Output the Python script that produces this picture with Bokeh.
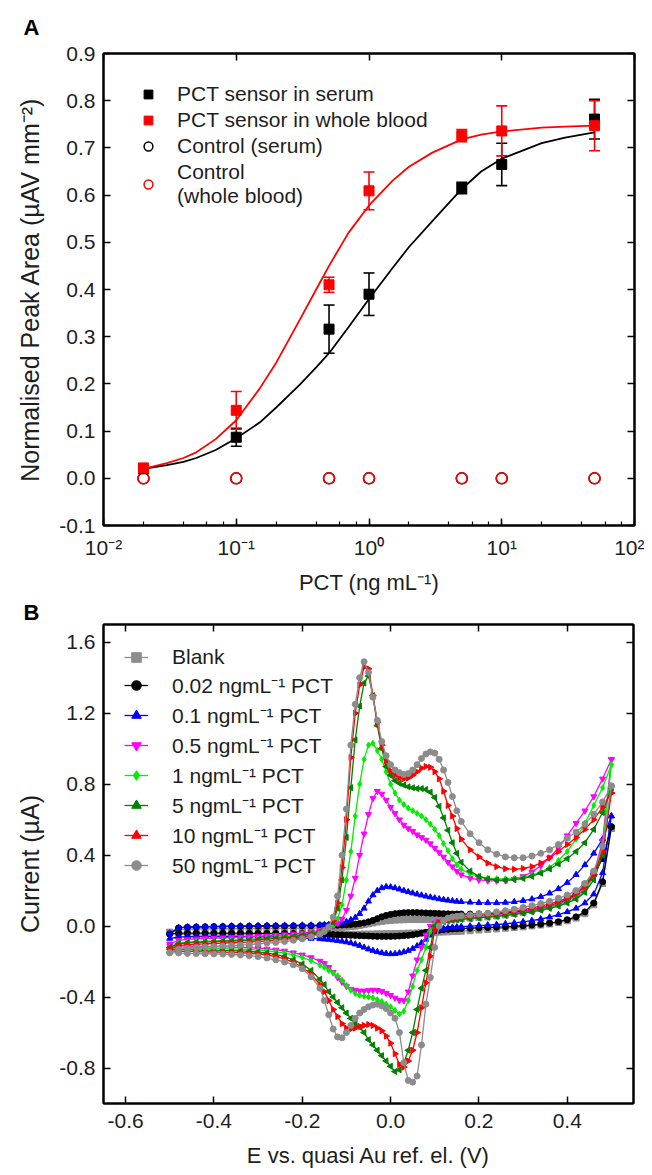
import math
from bokeh.plotting import figure
from bokeh.models import (LogAxis, LinearAxis, FixedTicker, LogTicker, CustomJSTickFormatter,
                          PrintfTickFormatter, Whisker, ColumnDataSource, TeeHead, Legend,
                          LegendItem, Title, Range1d)
from bokeh.layouts import column
from bokeh.embed import file_html
from bokeh.resources import INLINE

FONT = "Liberation Sans"
TXT = "#1e1e1e"

# ---------------- Panel A data ----------------
pct = [0.02, 0.1, 0.5, 1, 5, 10, 50]
serum = [0.020, 0.087, 0.316, 0.390, 0.615, 0.665, 0.761]
serum_err = [0.006, 0.019, 0.051, 0.045, 0.012, 0.045, 0.042]
blood = [0.022, 0.144, 0.410, 0.609, 0.726, 0.736, 0.747]
blood_err = [0.006, 0.040, 0.016, 0.040, 0.013, 0.053, 0.053]
control_serum = [0, 0, 0, 0, 0, 0, 0]
control_blood = [0, 0, 0, 0, 0, 0, 0]
fit_x = [0.02, 0.03, 0.04, 0.05, 0.07, 0.1, 0.15, 0.2, 0.3, 0.4, 0.5, 0.7, 1, 1.5, 2, 3, 5, 7, 10, 20, 30, 50]
fit_serum = [0.020, 0.028, 0.035, 0.043, 0.060, 0.085, 0.118, 0.150, 0.198, 0.235, 0.265, 0.320, 0.380,
             0.445, 0.490, 0.545, 0.613, 0.650, 0.677, 0.710, 0.722, 0.733]
fit_blood = [0.020, 0.032, 0.043, 0.055, 0.083, 0.123, 0.190, 0.245, 0.335, 0.400, 0.450, 0.520, 0.578,
             0.630, 0.660, 0.690, 0.718, 0.728, 0.735, 0.743, 0.745, 0.747]
a_yticks = [-0.1, 0.0, 0.1, 0.2, 0.3, 0.4, 0.5, 0.6, 0.7, 0.8, 0.9]

# ---------------- Panel B data ----------------
E_V = [-0.50, -0.48, -0.46, -0.44, -0.42, -0.40, -0.38, -0.36, -0.34, -0.32, -0.30, -0.28, -0.26, -0.24, -0.22, -0.20, -0.18, -0.16,
       -0.15, -0.14, -0.13, -0.12, -0.11, -0.10, -0.09, -0.08, -0.07, -0.06, -0.05, -0.04, -0.03, -0.02, -0.01, 0.00,
       0.01, 0.02, 0.03, 0.04, 0.05, 0.06, 0.07, 0.08, 0.09, 0.10, 0.11, 0.12, 0.13, 0.14, 0.15,
       0.16, 0.18, 0.20, 0.22, 0.24, 0.26, 0.28, 0.30, 0.32, 0.34, 0.36, 0.38, 0.40, 0.42, 0.44, 0.46, 0.48, 0.50]

blank_fwd = [-0.035, -0.020, -0.018, -0.017, -0.016, -0.016, -0.015, -0.015, -0.015, -0.014, -0.014, -0.014, -0.013, -0.013, -0.013, -0.012, -0.012, -0.012,
             -0.011, -0.010, -0.009, -0.008, -0.007, -0.005, -0.003, 0.000, 0.004, 0.008, 0.013, 0.018, 0.023, 0.027, 0.030, 0.032,
             0.034, 0.035, 0.036, 0.037, 0.037, 0.037, 0.037, 0.037, 0.037, 0.037, 0.038, 0.038, 0.039, 0.040, 0.041,
             0.042, 0.045, 0.048, 0.052, 0.057, 0.063, 0.070, 0.078, 0.088, 0.100, 0.115, 0.134, 0.158, 0.190, 0.235, 0.300, 0.390, 0.550]
blank_rev = [-0.035, -0.045, -0.048, -0.049, -0.050, -0.050, -0.050, -0.050, -0.050, -0.050, -0.050, -0.050, -0.050, -0.050, -0.050, -0.050, -0.049, -0.049,
             -0.049, -0.048, -0.048, -0.048, -0.047, -0.047, -0.047, -0.046, -0.046, -0.045, -0.045, -0.045, -0.044, -0.044, -0.043, -0.043,
             -0.042, -0.042, -0.041, -0.040, -0.040, -0.039, -0.038, -0.037, -0.036, -0.035, -0.034, -0.033, -0.032, -0.031, -0.030,
             -0.029, -0.026, -0.022, -0.019, -0.016, -0.012, -0.008, -0.004, 0.001, 0.006, 0.012, 0.020, 0.030, 0.045, 0.070, 0.120, 0.240, 0.550]

c002_fwd = [-0.045, -0.010, -0.006, -0.005, -0.004, -0.003, -0.003, -0.002, -0.002, -0.001, -0.001, 0.000, 0.000, 0.000, 0.001, 0.001, 0.002, 0.003,
            0.003, 0.004, 0.004, 0.005, 0.006, 0.007, 0.009, 0.011, 0.014, 0.018, 0.024, 0.032, 0.042, 0.052, 0.060, 0.066,
            0.070, 0.073, 0.075, 0.076, 0.076, 0.076, 0.075, 0.074, 0.073, 0.072, 0.071, 0.070, 0.069, 0.068, 0.068,
            0.068, 0.068, 0.069, 0.070, 0.072, 0.075, 0.079, 0.084, 0.091, 0.100, 0.112, 0.128, 0.150, 0.180, 0.225, 0.290, 0.380, 0.560]
c002_rev = [-0.045, -0.040, -0.040, -0.040, -0.040, -0.040, -0.040, -0.040, -0.040, -0.040, -0.041, -0.041, -0.041, -0.041, -0.042, -0.042, -0.043, -0.045,
            -0.046, -0.047, -0.048, -0.049, -0.050, -0.051, -0.052, -0.053, -0.054, -0.055, -0.056, -0.057, -0.058, -0.058, -0.058, -0.058,
            -0.057, -0.056, -0.054, -0.052, -0.049, -0.045, -0.040, -0.035, -0.030, -0.026, -0.023, -0.020, -0.018, -0.016, -0.015,
            -0.014, -0.012, -0.010, -0.008, -0.006, -0.004, -0.001, 0.002, 0.006, 0.011, 0.017, 0.025, 0.036, 0.052, 0.080, 0.130, 0.250, 0.560]

c01_fwd = [-0.040, -0.010, -0.005, -0.004, -0.003, -0.002, -0.001, 0.000, 0.000, 0.001, 0.002, 0.003, 0.003, 0.004, 0.004, 0.005, 0.005, 0.006,
           0.007, 0.008, 0.010, 0.013, 0.018, 0.025, 0.035, 0.048, 0.070, 0.100, 0.140, 0.175, 0.200, 0.215, 0.222, 0.220,
           0.215, 0.208, 0.200, 0.193, 0.186, 0.180, 0.174, 0.168, 0.163, 0.158, 0.153, 0.149, 0.145, 0.142, 0.139,
           0.137, 0.134, 0.132, 0.131, 0.131, 0.133, 0.137, 0.143, 0.152, 0.165, 0.185, 0.210, 0.245, 0.290, 0.345, 0.410, 0.490, 0.620]
c01_rev = [-0.070, -0.062, -0.060, -0.059, -0.058, -0.058, -0.058, -0.058, -0.058, -0.059, -0.060, -0.061, -0.062, -0.064, -0.066, -0.068, -0.070, -0.072,
           -0.074, -0.076, -0.079, -0.082, -0.086, -0.090, -0.095, -0.102, -0.110, -0.120, -0.130, -0.138, -0.145, -0.151, -0.155, -0.157,
           -0.156, -0.152, -0.146, -0.138, -0.127, -0.112, -0.095, -0.075, -0.052, -0.032, -0.020, -0.014, -0.010, -0.007, -0.005,
           -0.003, 0.000, 0.003, 0.006, 0.009, 0.013, 0.018, 0.024, 0.031, 0.040, 0.050, 0.064, 0.080, 0.100, 0.130, 0.180, 0.300, 0.620]

c05_fwd = [-0.100, -0.080, -0.075, -0.072, -0.070, -0.068, -0.066, -0.064, -0.062, -0.060, -0.058, -0.055, -0.052, -0.048, -0.044, -0.039, -0.032, -0.024,
           -0.018, -0.010, 0.000, 0.015, 0.040, 0.090, 0.170, 0.270, 0.400, 0.520, 0.630, 0.720, 0.760, 0.745, 0.710, 0.670,
           0.635, 0.600, 0.570, 0.550, 0.535, 0.515, 0.500, 0.485, 0.465, 0.440, 0.415, 0.390, 0.360, 0.335, 0.310,
           0.290, 0.270, 0.260, 0.256, 0.255, 0.257, 0.265, 0.280, 0.305, 0.340, 0.385, 0.440, 0.510, 0.580, 0.650, 0.730, 0.830, 0.940]
c05_rev = [-0.110, -0.112, -0.113, -0.114, -0.115, -0.116, -0.117, -0.118, -0.120, -0.122, -0.125, -0.129, -0.134, -0.140, -0.150, -0.162, -0.177, -0.197,
           -0.210, -0.232, -0.260, -0.290, -0.315, -0.340, -0.355, -0.362, -0.365, -0.365, -0.363, -0.360, -0.362, -0.368, -0.378, -0.390,
           -0.405, -0.418, -0.420, -0.370, -0.280, -0.190, -0.120, -0.050, 0.000, 0.018, 0.025, 0.030, 0.034, 0.037, 0.040,
           0.042, 0.046, 0.050, 0.055, 0.060, 0.066, 0.073, 0.081, 0.090, 0.100, 0.112, 0.127, 0.145, 0.170, 0.210, 0.290, 0.480, 0.940]

c1_fwd = [-0.120, -0.095, -0.090, -0.087, -0.085, -0.083, -0.081, -0.079, -0.077, -0.075, -0.072, -0.069, -0.065, -0.060, -0.055, -0.048, -0.040, -0.030,
          -0.022, -0.012, 0.005, 0.040, 0.120, 0.260, 0.420, 0.620, 0.800, 0.940, 1.020, 1.030, 0.990, 0.940, 0.870, 0.800,
          0.750, 0.710, 0.685, 0.665, 0.650, 0.635, 0.620, 0.600, 0.575, 0.545, 0.510, 0.465, 0.425, 0.380, 0.345,
          0.320, 0.295, 0.280, 0.270, 0.267, 0.266, 0.268, 0.275, 0.287, 0.305, 0.330, 0.370, 0.420, 0.490, 0.580, 0.680, 0.780, 0.910]
c1_rev = [-0.120, -0.122, -0.123, -0.124, -0.125, -0.126, -0.127, -0.128, -0.130, -0.133, -0.136, -0.140, -0.145, -0.152, -0.162, -0.176, -0.195, -0.220,
          -0.232, -0.250, -0.265, -0.280, -0.305, -0.335, -0.360, -0.380, -0.390, -0.395, -0.400, -0.405, -0.415, -0.425, -0.440, -0.455,
          -0.475, -0.495, -0.480, -0.420, -0.340, -0.250, -0.190, -0.120, -0.030, 0.010, 0.022, 0.028, 0.032, 0.035, 0.038,
          0.040, 0.044, 0.048, 0.052, 0.057, 0.062, 0.068, 0.075, 0.083, 0.093, 0.104, 0.118, 0.135, 0.160, 0.200, 0.280, 0.450, 0.910]

c5_fwd = [-0.120, -0.100, -0.095, -0.092, -0.090, -0.088, -0.086, -0.084, -0.082, -0.080, -0.077, -0.074, -0.070, -0.065, -0.060, -0.053, -0.044, -0.033,
          -0.025, -0.010, 0.020, 0.100, 0.260, 0.500, 0.780, 1.050, 1.240, 1.370, 1.410, 1.300, 1.130, 1.000, 0.900, 0.850,
          0.820, 0.805, 0.795, 0.785, 0.780, 0.775, 0.775, 0.770, 0.755, 0.725, 0.675, 0.610, 0.540, 0.470, 0.410,
          0.360, 0.310, 0.280, 0.265, 0.260, 0.258, 0.262, 0.268, 0.280, 0.298, 0.322, 0.350, 0.380, 0.420, 0.470, 0.545, 0.640, 0.780]
c5_rev = [-0.130, -0.132, -0.133, -0.134, -0.135, -0.136, -0.137, -0.138, -0.140, -0.143, -0.147, -0.152, -0.160, -0.172, -0.190, -0.213, -0.250, -0.300,
          -0.330, -0.370, -0.400, -0.430, -0.460, -0.490, -0.520, -0.550, -0.570, -0.600, -0.640, -0.670, -0.700, -0.730, -0.760, -0.790,
          -0.820, -0.810, -0.770, -0.700, -0.600, -0.470, -0.350, -0.250, -0.120, 0.000, 0.020, 0.025, 0.030, 0.033, 0.036,
          0.038, 0.042, 0.046, 0.050, 0.055, 0.060, 0.066, 0.073, 0.080, 0.090, 0.100, 0.113, 0.130, 0.152, 0.190, 0.260, 0.400, 0.780]

c10_fwd = [-0.130, -0.110, -0.105, -0.102, -0.100, -0.098, -0.096, -0.094, -0.092, -0.090, -0.087, -0.084, -0.080, -0.075, -0.069, -0.062, -0.052, -0.040,
           -0.030, -0.010, 0.030, 0.130, 0.330, 0.600, 0.950, 1.200, 1.360, 1.460, 1.450, 1.300, 1.150, 1.020, 0.930, 0.875,
           0.850, 0.835, 0.830, 0.835, 0.850, 0.870, 0.890, 0.900, 0.895, 0.870, 0.830, 0.760, 0.680, 0.620, 0.550,
           0.490, 0.430, 0.390, 0.355, 0.335, 0.323, 0.320, 0.325, 0.335, 0.355, 0.385, 0.420, 0.460, 0.500, 0.545, 0.600, 0.670, 0.750]
c10_rev = [-0.140, -0.142, -0.143, -0.144, -0.145, -0.146, -0.147, -0.148, -0.150, -0.153, -0.157, -0.163, -0.172, -0.185, -0.205, -0.232, -0.270, -0.330,
           -0.370, -0.420, -0.470, -0.510, -0.550, -0.575, -0.580, -0.575, -0.565, -0.560, -0.555, -0.560, -0.575, -0.590, -0.620, -0.660,
           -0.720, -0.780, -0.795, -0.760, -0.700, -0.600, -0.460, -0.320, -0.170, -0.020, 0.020, 0.030, 0.037, 0.042, 0.046,
           0.050, 0.055, 0.060, 0.065, 0.070, 0.077, 0.085, 0.093, 0.102, 0.113, 0.125, 0.140, 0.158, 0.182, 0.220, 0.290, 0.420, 0.750]

c50_fwd = [-0.150, -0.130, -0.125, -0.120, -0.118, -0.115, -0.112, -0.110, -0.107, -0.104, -0.100, -0.096, -0.092, -0.087, -0.080, -0.072, -0.060, -0.045,
           -0.030, -0.005, 0.050, 0.170, 0.400, 0.660, 1.020, 1.250, 1.400, 1.490, 1.430, 1.290, 1.160, 1.040, 0.960, 0.910,
           0.880, 0.865, 0.855, 0.860, 0.880, 0.910, 0.945, 0.970, 0.982, 0.975, 0.940, 0.880, 0.810, 0.730, 0.650,
           0.590, 0.520, 0.470, 0.430, 0.405, 0.390, 0.385, 0.385, 0.395, 0.410, 0.430, 0.460, 0.495, 0.530, 0.575, 0.630, 0.700, 0.790]
c50_rev = [-0.150, -0.152, -0.154, -0.155, -0.156, -0.157, -0.158, -0.160, -0.163, -0.167, -0.172, -0.180, -0.190, -0.202, -0.218, -0.240, -0.285, -0.350,
           -0.420, -0.500, -0.580, -0.625, -0.630, -0.600, -0.560, -0.520, -0.490, -0.470, -0.455, -0.445, -0.440, -0.450, -0.465, -0.490,
           -0.520, -0.600, -0.770, -0.870, -0.880, -0.845, -0.670, -0.440, -0.290, -0.120, 0.000, 0.030, 0.045, 0.052, 0.055,
           0.058, 0.063, 0.068, 0.073, 0.080, 0.087, 0.095, 0.105, 0.115, 0.127, 0.140, 0.157, 0.175, 0.200, 0.240, 0.310, 0.450, 0.790]

b_labels = ["Blank", "0.02 ngmL\u207b\u00b9 PCT", "0.1 ngmL\u207b\u00b9 PCT", "0.5 ngmL\u207b\u00b9 PCT",
            "1 ngmL\u207b\u00b9 PCT", "5 ngmL\u207b\u00b9 PCT", "10 ngmL\u207b\u00b9 PCT", "50 ngmL\u207b\u00b9 PCT"]
b_fwd = [blank_fwd, c002_fwd, c01_fwd, c05_fwd, c1_fwd, c5_fwd, c10_fwd, c50_fwd]
b_rev = [blank_rev, c002_rev, c01_rev, c05_rev, c1_rev, c5_rev, c10_rev, c50_rev]
b_xticks = [-0.6, -0.4, -0.2, 0.0, 0.2, 0.4]
b_yticks = [-0.8, -0.4, 0.0, 0.4, 0.8, 1.2, 1.6]

# styles (kept separate from data)
b_colors = ["#8c8c8c", "#000000", "#0000ff", "#ff00ff", "#00ee00", "#008000", "#ff0000", "#8c8c8c"]
b_markers = ["square", "circle", "triangle", "inverted_triangle", "diamond", "triangle", "triangle", "circle"]
b_angles = [0, 0, 0, 0, 0, math.pi / 2, -math.pi / 2, 0]


def empty_fmt():
    return CustomJSTickFormatter(code="return '';")


def style_axis(ax):
    ax.axis_line_width = 2
    ax.axis_line_color = "black"
    ax.major_tick_line_width = 1.5
    ax.major_tick_line_color = "black"
    ax.minor_tick_line_width = 1.2
    ax.minor_tick_line_color = "black"
    ax.major_tick_in = 7
    ax.major_tick_out = 0
    ax.minor_tick_in = 4
    ax.minor_tick_out = 0
    ax.major_label_text_font = FONT
    ax.major_label_text_font_size = "21px"
    ax.major_label_text_color = TXT
    ax.axis_label_text_font = FONT
    ax.axis_label_text_font_size = "22px"
    ax.axis_label_text_font_style = "normal"
    ax.axis_label_text_color = TXT


def mirror_axis(ax):
    style_axis(ax)
    ax.minor_tick_in = 0
    ax.major_label_standoff = 0
    ax.major_label_text_font_size = "1px"


def panel_title(text, standoff, valign):
    return Title(text=text, align="left", offset=-80, standoff=standoff,
                 vertical_align=valign,
                 text_font=FONT, text_font_size="22px", text_font_style="bold",
                 text_color="black")


# ---------------- Panel A ----------------
pA = figure(frame_width=531, frame_height=472, x_axis_type="log",
            x_range=Range1d(0.01, 100), y_range=Range1d(-0.1, 0.9),
            output_backend="svg", toolbar_location=None,
            min_border_left=102, min_border_right=11, min_border_top=53, min_border_bottom=66)
pA.grid.visible = False
pA.outline_line_color = "black"
pA.outline_line_width = 2

sup = CustomJSTickFormatter(code="""
const e = Math.round(Math.log10(tick));
const m = {'-':'\\u207b','0':'\\u2070','1':'\\u00b9','2':'\\u00b2','3':'\\u00b3'};
return '10' + String(e).split('').map(c => m[c]).join('');
""")
pA.xaxis.ticker = LogTicker(mantissas=[1])
pA.xaxis.formatter = sup
pA.xaxis.axis_label = "PCT (ng mL\u207b\u00b9)"
pA.yaxis.ticker = FixedTicker(ticks=a_yticks)
pA.yaxis.formatter = PrintfTickFormatter(format="%.1f")
pA.yaxis.axis_label = "Normalised Peak Area (\u00b5AV mm\u207b\u00b2)"
for ax in pA.xaxis + pA.yaxis:
    style_axis(ax)
pA.xaxis.major_label_standoff = 10
pA.xaxis.axis_label_standoff = 8
pA.yaxis.major_label_standoff = 8
pA.yaxis.axis_label_standoff = 12
pA.yaxis.axis_label_text_font_size = "25px"
top_a = LogAxis(ticker=LogTicker(mantissas=[1], num_minor_ticks=0), formatter=empty_fmt())
right_a = LinearAxis(ticker=FixedTicker(ticks=a_yticks), formatter=empty_fmt())
mirror_axis(top_a)
mirror_axis(right_a)
pA.add_layout(top_a, "above")
pA.add_layout(right_a, "right")
pA.add_layout(panel_title("A", 24, "top"), "above")

pA.line(fit_x, fit_serum, line_color="black", line_width=1.8)
pA.line(fit_x, fit_blood, line_color="red", line_width=1.8)

src_s = ColumnDataSource(dict(x=pct, lo=[v - e for v, e in zip(serum, serum_err)],
                              hi=[v + e for v, e in zip(serum, serum_err)]))
src_b = ColumnDataSource(dict(x=pct, lo=[v - e for v, e in zip(blood, blood_err)],
                              hi=[v + e for v, e in zip(blood, blood_err)]))
for src, col in ((src_s, "black"), (src_b, "red")):
    w = Whisker(source=src, base="x", upper="hi", lower="lo", dimension="height",
                line_color=col, line_width=1.6,
                upper_head=TeeHead(size=11, line_color=col, line_width=1.6),
                lower_head=TeeHead(size=11, line_color=col, line_width=1.6))
    pA.add_layout(w)

r_cs = pA.scatter(pct, control_serum, marker="circle", size=11, fill_color=None,
                  line_color="black", line_width=1.5)
r_cb = pA.scatter(pct, control_blood, marker="circle", size=11, fill_color=None,
                  line_color="red", line_width=1.5)
r_s = pA.scatter(pct, serum, marker="square", size=10, color="black")
r_b = pA.scatter(pct, blood, marker="square", size=10, color="red")

legA = Legend(items=[LegendItem(label="PCT sensor in serum", renderers=[r_s]),
                     LegendItem(label="PCT sensor in whole blood", renderers=[r_b]),
                     LegendItem(label="Control (serum)", renderers=[r_cs]),
                     LegendItem(label="Control\n(whole blood)", renderers=[r_cb])],
              location="top_left", margin=29, padding=8, spacing=2,
              glyph_width=32, glyph_height=22, label_height=22, label_standoff=13,
              label_text_font=FONT, label_text_font_size="21px", label_text_color=TXT,
              border_line_color=None, background_fill_alpha=0)
pA.add_layout(legA)

# ---------------- Panel B ----------------
pB = figure(frame_width=530, frame_height=479,
            x_range=Range1d(-0.65, 0.55), y_range=Range1d(-1.0, 1.7),
            output_backend="svg", toolbar_location=None,
            min_border_left=103, min_border_right=11, min_border_top=0, min_border_bottom=72)
pB.grid.visible = False
pB.outline_line_color = "black"
pB.outline_line_width = 2
pB.xaxis.ticker = FixedTicker(ticks=b_xticks)
pB.xaxis.formatter = PrintfTickFormatter(format="%.1f")
pB.xaxis.axis_label = "E vs. quasi Au ref. el. (V)"
pB.yaxis.ticker = FixedTicker(ticks=b_yticks)
pB.yaxis.formatter = PrintfTickFormatter(format="%.1f")
pB.yaxis.axis_label = "Current (\u00b5A)"
for ax in pB.xaxis + pB.yaxis:
    style_axis(ax)
pB.xaxis.major_label_standoff = 10
pB.xaxis.axis_label_standoff = 12
pB.yaxis.major_label_standoff = 8
pB.yaxis.axis_label_standoff = 12
pB.yaxis.axis_label_text_font_size = "25px"
top_b = LinearAxis(ticker=FixedTicker(ticks=b_xticks), formatter=empty_fmt())
right_b = LinearAxis(ticker=FixedTicker(ticks=b_yticks), formatter=empty_fmt())
mirror_axis(top_b)
mirror_axis(right_b)
pB.add_layout(top_b, "above")
pB.add_layout(right_b, "right")
pB.add_layout(panel_title("B", 0, "bottom"), "above")

items = []
for lab, fwd, rev, col, mk, ang in zip(b_labels, b_fwd, b_rev, b_colors, b_markers, b_angles):
    xs = E_V + E_V[::-1]
    ys = fwd + rev[::-1]
    rl = pB.line(xs, ys, line_color=col, line_width=1.3)
    rs = pB.scatter(xs, ys, marker=mk, size=6, angle=ang, fill_color=col, line_color=col,
                    line_width=1)
    items.append(LegendItem(label=lab, renderers=[rl, rs]))

legB = Legend(items=items, location="top_left", margin=21, padding=10, spacing=2,
              glyph_width=24, glyph_height=24, label_height=24, label_standoff=24,
              label_text_font=FONT, label_text_font_size="21px", label_text_color=TXT,
              border_line_color=None, background_fill_alpha=0)
pB.add_layout(legB)

layout = column(pA, pB, spacing=0)
open("out.html", "w").write(file_html(layout, INLINE))
